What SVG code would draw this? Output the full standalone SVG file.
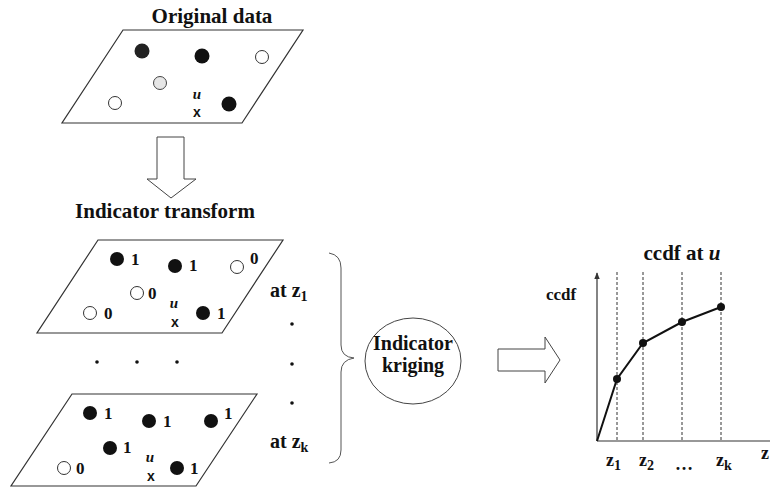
<svg xmlns="http://www.w3.org/2000/svg" width="770" height="490" viewBox="0 0 770 490">
<style>
.t{font-family:"Liberation Serif","Times New Roman",serif;font-weight:bold;fill:#111}
.plane{fill:none;stroke:#333;stroke-width:1.2}
.f{fill:#111}
.o{fill:#fff;stroke:#333;stroke-width:1}
.u{font-family:"Liberation Serif",serif;font-weight:bold;font-style:italic;font-size:15px;fill:#111}
.x{font-family:"Liberation Sans",Arial,sans-serif;font-weight:bold;font-size:14px;fill:#111}
.n{font-size:17px}
.dash{stroke:#333;stroke-width:1;stroke-dasharray:3 2}
.hollow{fill:#fff;stroke:#444;stroke-width:1}
</style>
<defs>
<marker id="ah" viewBox="0 0 10 10" refX="9" refY="5" markerWidth="6" markerHeight="6" orient="auto"><path d="M0,1 L10,5 L0,9 z" fill="#333"/></marker>
</defs>

<text class="t" x="212" y="23" font-size="21" text-anchor="middle">Original data</text>
<g id="original-data">
<polygon class="plane" points="123,30 303,30 242,123 62,123"/>
<circle cx="142" cy="51" r="7.5" fill="#222"/>
<circle class="f" cx="202" cy="56" r="7.5"/>
<circle class="o" cx="262" cy="57" r="6.5"/>
<circle cx="160" cy="83" r="6.5" fill="#e6e6e6" stroke="#444"/>
<circle class="o" cx="115" cy="103" r="6.5"/>
<circle class="f" cx="229" cy="104" r="7.5"/>
<text class="u" x="197" y="99" text-anchor="middle">u</text>
<text class="x" x="197" y="117" text-anchor="middle">x</text>
</g>

<text class="t" x="165" y="218" font-size="21" text-anchor="middle">Indicator transform</text>

<g id="indicator-z1">
<polygon class="plane" points="98,240 283,240 222,333 37,333"/>
<circle class="f" cx="117" cy="259" r="7"/><text class="t n" x="131" y="265">1</text>
<circle class="f" cx="175" cy="266" r="7"/><text class="t n" x="189" y="271">1</text>
<circle class="o" cx="237" cy="267" r="6.5"/><text class="t n" x="250" y="264">0</text>
<circle class="o" cx="137" cy="293" r="6.5"/><text class="t n" x="148" y="299">0</text>
<circle class="o" cx="90" cy="313" r="6.5"/><text class="t n" x="104" y="319">0</text>
<text class="u" x="174" y="308" text-anchor="middle">u</text>
<text class="x" x="175" y="327" text-anchor="middle">x</text>
<circle class="f" cx="203" cy="313" r="7"/><text class="t n" x="217" y="319">1</text>
<text class="t" x="270" y="297" font-size="20">at z<tspan font-size="14" dy="4">1</tspan></text>
</g>

<g id="ellipsis-dots">
<circle class="f" cx="97" cy="362" r="1.8"/>
<circle class="f" cx="137" cy="362" r="1.8"/>
<circle class="f" cx="177" cy="362" r="1.8"/>
<circle class="f" cx="292" cy="324" r="1.8"/>
<circle class="f" cx="292" cy="364" r="1.8"/>
<circle class="f" cx="292" cy="403" r="1.8"/>
</g>

<g id="indicator-zk">
<polygon class="plane" points="72,394 257,394 196,486 11,486"/>
<circle class="f" cx="90" cy="413" r="7"/><text class="t n" x="104" y="419">1</text>
<circle class="f" cx="149" cy="421" r="7"/><text class="t n" x="163" y="427">1</text>
<circle class="f" cx="211" cy="421" r="7"/><text class="t n" x="224" y="419">1</text>
<circle class="f" cx="110" cy="448" r="7"/><text class="t n" x="123" y="453">1</text>
<circle class="o" cx="64" cy="468" r="6.5"/><text class="t n" x="76" y="474">0</text>
<text class="u" x="150" y="462" text-anchor="middle">u</text>
<text class="x" x="151" y="481" text-anchor="middle">x</text>
<circle class="f" cx="177" cy="468" r="7"/><text class="t n" x="190" y="474">1</text>
<text class="t" x="270" y="448" font-size="20">at z<tspan font-size="14" dy="4">k</tspan></text>
</g>

<g id="kriging">
<ellipse cx="413" cy="361" rx="48" ry="43" fill="#fff" stroke="#444" stroke-width="1"/>
<text class="t" x="413" y="350" font-size="20" text-anchor="middle">Indicator</text>
<text class="t" x="413" y="372" font-size="20" text-anchor="middle">kriging</text>
</g>

<g id="ccdf-chart">
<text class="t" x="682" y="260" font-size="21" text-anchor="middle">ccdf at <tspan font-style="italic">u</tspan></text>
<text class="t" x="546" y="300" font-size="17">ccdf</text>
<line x1="597" y1="441" x2="597" y2="273" stroke="#333" stroke-width="1.2" marker-end="url(#ah)"/>
<line x1="597" y1="441" x2="770" y2="441" stroke="#333" stroke-width="1.2"/>
<line class="dash" x1="617" y1="272" x2="617" y2="441"/>
<line class="dash" x1="643" y1="272" x2="643" y2="441"/>
<line class="dash" x1="682" y1="272" x2="682" y2="441"/>
<line class="dash" x1="721" y1="272" x2="721" y2="441"/>
<polyline points="597,441 617,379 643,343 682,322 721,307" fill="none" stroke="#111" stroke-width="2"/>
<circle class="f" cx="617" cy="379" r="4"/>
<circle class="f" cx="643" cy="343" r="4"/>
<circle class="f" cx="682" cy="322" r="4"/>
<circle class="f" cx="721" cy="307" r="4"/>
<text class="t" x="606" y="466" font-size="18">z<tspan font-size="14" dy="4">1</tspan></text>
<text class="t" x="639" y="466" font-size="18">z<tspan font-size="14" dy="4">2</tspan></text>
<text class="t" x="675" y="470" font-size="18">…</text>
<text class="t" x="716" y="466" font-size="18">z<tspan font-size="14" dy="4">k</tspan></text>
<text class="t" x="761" y="459" font-size="18">z</text>
</g>

<g id="connectors">
<path class="hollow" d="M157,137 L184,137 L184,179 L196,179 L171,198 L147,179 L157,179 Z"/>
<path fill="none" stroke="#555" stroke-width="1" d="M329,253 Q341,255 341,268 L341,345 Q341,357 354,358 Q341,360 341,372 L341,450 Q341,462 329,463"/>
<path class="hollow" d="M498,349 L545,349 L545,337 L560,360 L545,383 L545,371 L498,371 Z"/>
</g>
</svg>
